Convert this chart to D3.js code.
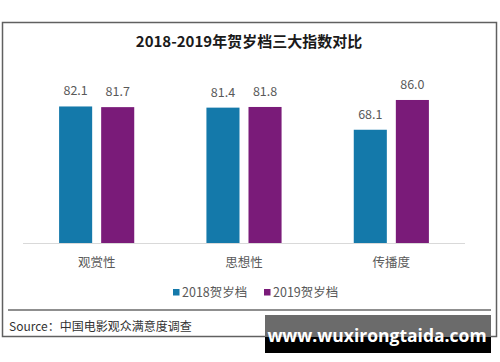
<!DOCTYPE html>
<html><head><meta charset="utf-8">
<script src="https://cdn.jsdelivr.net/npm/d3@7"></script>
<style>
body{margin:0;background:#fff;}
svg{display:block;font-family:"Noto Sans CJK SC","Noto Sans",sans-serif;}
</style></head>
<body><svg id="c" width="500" height="362"></svg>
<script>
const title = "2018-2019年贺岁档三大指数对比";
const categories = ["观赏性", "思想性", "传播度"];
const seriesNames = ["2018贺岁档", "2019贺岁档"];
const values2018 = [82.1, 81.4, 68.1];
const values2019 = [81.7, 81.8, 86.0];
const colors = ["#1479aa", "#7a1b79"];
const source = "Source：中国电影观众满意度调查";
const watermark = "www.wuxirongtaida.com";

const svg = d3.select("#c");
// outer frame
svg.append("rect").attr("x",2.5).attr("y",22.5).attr("width",494).attr("height",314)
  .attr("fill","#fff").attr("stroke","#606060").attr("stroke-width",1.5);

svg.append("text").attr("x",249).attr("y",47).attr("text-anchor","middle")
  .attr("font-size",15).attr("font-weight","bold").attr("fill","#1a1a1a").text(title);

const left=23, right=465, base=243;
const x0 = d3.scaleBand().domain(categories).range([left,right]).paddingInner(0.49).paddingOuter(0.245);
const x1 = d3.scaleBand().domain(seriesNames).range([0,x0.bandwidth()]).paddingInner(0.214);
const y = d3.scaleLinear().domain([0,100]).range([base, base-166.3]);

const data = categories.map((c,i)=>({cat:c, vals:[values2018[i], values2019[i]]}));

const g = svg.append("g");
const groups = g.selectAll("g.grp").data(data).enter().append("g")
  .attr("transform", d=>`translate(${x0(d.cat)},0)`);
groups.selectAll("rect").data(d=>d.vals.map((v,j)=>({v, s:seriesNames[j], j})))
  .enter().append("rect")
  .attr("x", d=>x1(d.s)).attr("width", x1.bandwidth())
  .attr("y", d=>y(d.v)).attr("height", d=>base-y(d.v))
  .attr("fill", d=>colors[d.j]);
groups.selectAll("text").data(d=>d.vals.map((v,j)=>({v, s:seriesNames[j], j})))
  .enter().append("text")
  .attr("x", d=>x1(d.s)+x1.bandwidth()/2).attr("y", d=>y(d.v)-11)
  .attr("text-anchor","middle").attr("font-size",12.5).attr("fill","#595959")
  .text(d=>d.v.toFixed(1));

// axis baseline
svg.append("line").attr("x1",left).attr("x2",right).attr("y1",base+0.5).attr("y2",base+0.5)
  .attr("stroke","#d9d9d9").attr("stroke-width",1);

const xAxis = d3.axisBottom(x0).tickSize(0).tickPadding(14);
const ax = svg.append("g").attr("transform",`translate(0,${base+1})`).call(xAxis);
ax.select(".domain").remove();
ax.selectAll("text").attr("font-size",12.5).attr("fill","#595959")
  .attr("font-family",'"Noto Sans CJK SC",sans-serif');

// legend
const legX = [173, 264];
seriesNames.forEach((s,i)=>{
  svg.append("rect").attr("x",legX[i]).attr("y",289).attr("width",6.5).attr("height",6.5).attr("fill",colors[i]);
  svg.append("text").attr("x",legX[i]+9).attr("y",297).attr("font-size",12.5).attr("fill","#595959").text(s);
});

// separator
svg.append("line").attr("x1",8).attr("x2",491).attr("y1",310).attr("y2",310)
  .attr("stroke","#6a6a6a").attr("stroke-width",1.5);
svg.append("text").attr("x",9).attr("y",331).attr("font-size",12).attr("fill","#333").text(source);

// watermark
svg.append("rect").attr("x",265).attr("y",315).attr("width",226).attr("height",22).attr("fill","#6b6b6b");
svg.append("rect").attr("x",265).attr("y",337).attr("width",226).attr("height",16).attr("fill","#000");
svg.append("text").attr("x",377).attr("y",342).attr("text-anchor","middle")
  .attr("font-family","'Open Sans','DejaVu Sans',sans-serif").attr("font-weight","bold")
  .attr("font-size",17.5).attr("fill","#fff").text(watermark);
</script></body></html>
